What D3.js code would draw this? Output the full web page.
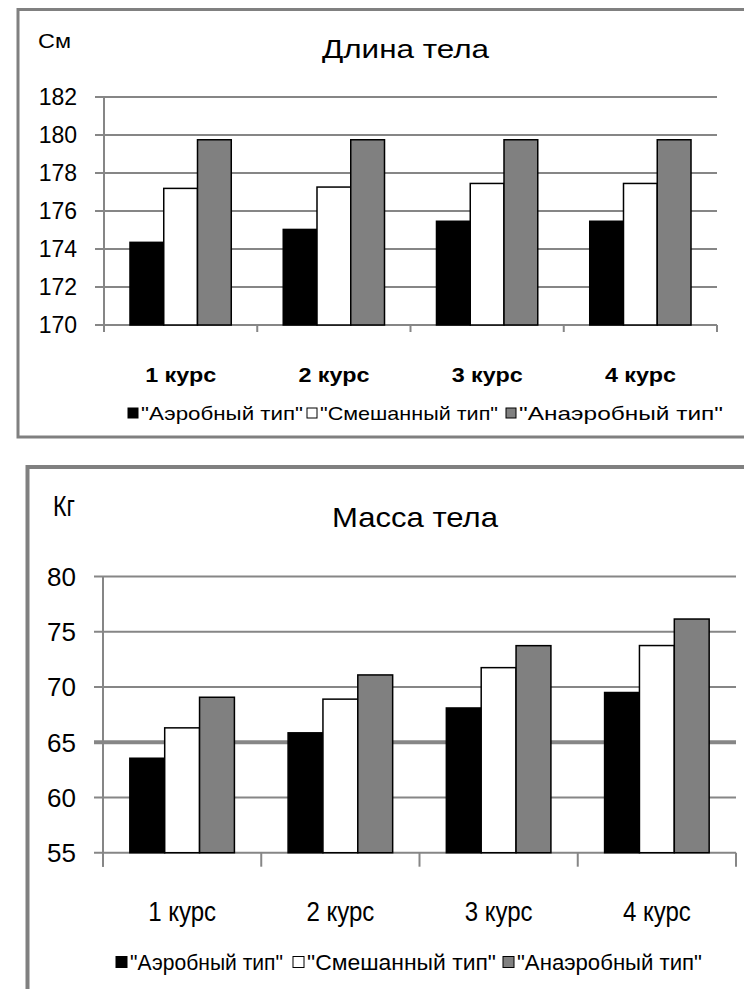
<!DOCTYPE html>
<html>
<head>
<meta charset="utf-8">
<style>
  body { margin: 0; background: #fff; }
  text { font-family: "Liberation Sans Narrow", "Liberation Sans", sans-serif; fill: #000; }
</style>
</head>
<body>
<svg id="container" width="744" height="989"></svg>
<script src="https://cdn.jsdelivr.net/npm/d3@7"></script>
<script>
// data
const courses = ["1 курс", "2 курс", "3 курс", "4 курс"];
const seriesNames = ['"Аэробный тип"', '"Смешанный тип"', '"Анаэробный тип"'];
const seriesColors = ["#000000", "#ffffff", "#808080"];

const lengthAerobic = [174.35, 175.03, 175.46, 175.46];
const lengthMixed = [177.19, 177.26, 177.45, 177.45];
const lengthAnaerobic = [179.75, 179.75, 179.75, 179.75];
const lengthTicks = [170, 172, 174, 176, 178, 180, 182];

const massAerobic = [63.55, 65.85, 68.1, 69.5];
const massMixed = [66.3, 68.9, 71.75, 73.75];
const massAnaerobic = [69.07, 71.09, 73.74, 76.15];
const massTicks = [55, 60, 65, 70, 75, 80];

let svg = d3.select("#container")

function drawChart(c) {
    let g = svg.append("g")

    // outer frame
    g.append("rect")
        .attr("x", c.frame[0]).attr("y", c.frame[1])
        .attr("width", c.frame[2]).attr("height", c.frame[3])
        .attr("fill", "none").attr("stroke", "#808080").attr("stroke-width", c.frameW)

    let y = d3.scaleLinear().domain(d3.extent(c.ticks)).range([c.bottom, c.top])
    let x0 = d3.scaleBand().domain(courses).range([c.left, c.right]).padding(0)
    let x1 = d3.scaleBand().domain(d3.range(3)).range([0, x0.bandwidth()])
        .paddingInner(0).paddingOuter(0.77)

    // gridlines + tick labels
    g.selectAll(".grid").data(c.ticks.slice(1)).enter().append("line")
        .attr("x1", c.left - 9).attr("x2", c.right)
        .attr("y1", d => y(d)).attr("y2", d => y(d))
        .attr("stroke", "#868686")
        .attr("stroke-width", d => d === c.heavy ? 4 : 2)

    g.selectAll(".ylab").data(c.ticks).enter().append("text")
        .attr("x", c.labelX).attr("y", d => y(d))
        .attr("dy", "0.36em")
        .attr("text-anchor", "end")
        .style("font-family", "'Liberation Sans', sans-serif")
        .style("font-size", c.tickSize + "px")
        .text(d => d)

    // axes
    g.append("line")
        .attr("x1", c.left).attr("x2", c.left)
        .attr("y1", y(c.ticks[c.ticks.length - 1])).attr("y2", c.bottom + c.tickLen)
        .attr("stroke", "#868686").attr("stroke-width", 2)
    g.append("line")
        .attr("x1", c.left - 9).attr("x2", c.right)
        .attr("y1", c.bottom).attr("y2", c.bottom)
        .attr("stroke", "#868686").attr("stroke-width", 2)
    let edges = courses.map(d => x0(d)).concat([c.right])
    g.selectAll(".xtick").data(edges).enter().append("line")
        .attr("x1", d => d).attr("x2", d => d)
        .attr("y1", c.bottom).attr("y2", c.bottom + c.tickLen)
        .attr("stroke", "#868686").attr("stroke-width", 2)

    // bars
    let groups = g.selectAll(".grp").data(courses).enter().append("g")
        .attr("transform", d => `translate(${x0(d)},0)`)
    groups.selectAll("rect")
        .data((d, i) => c.series.map((s, k) => ({ k: k, v: s[i] })))
        .enter().append("rect")
        .attr("x", d => x1(d.k))
        .attr("y", d => y(d.v))
        .attr("width", x1.bandwidth())
        .attr("height", d => c.bottom - y(d.v))
        .attr("fill", d => seriesColors[d.k])
        .attr("stroke", "#000").attr("stroke-width", 1.5)

    // category labels
    g.selectAll(".xlab").data(courses).enter().append("text")
        .attr("x", d => x0(d) + x0.bandwidth() / 2)
        .attr("y", c.catY)
        .attr("text-anchor", "middle")
        .attr("textLength", c.catW).attr("lengthAdjust", "spacingAndGlyphs")
        .style("font-size", c.catSize + "px")
        .style("font-weight", c.catBold ? "bold" : "normal")
        .text(d => d)

    // title and unit
    g.append("text")
        .attr("x", c.titleX).attr("y", c.titleY)
        .attr("textLength", c.titleW).attr("lengthAdjust", "spacingAndGlyphs")
        .style("font-size", c.titleSize + "px")
        .text(c.title)
    g.append("text")
        .attr("x", c.unitX).attr("y", c.unitY)
        .attr("textLength", c.unitW).attr("lengthAdjust", "spacingAndGlyphs")
        .style("font-size", c.unitSize + "px")
        .text(c.unit)

    // legend
    seriesNames.forEach((name, k) => {
        let lx = c.legX[k]
        g.append("rect")
            .attr("x", lx).attr("y", c.legY - c.sq / 2)
            .attr("width", c.sq).attr("height", c.sq)
            .attr("fill", seriesColors[k])
            .attr("stroke", "#000").attr("stroke-width", 1)
        g.append("text")
            .attr("x", lx + c.sq + 3).attr("y", c.legY)
            .attr("dy", "0.36em")
            .attr("textLength", c.legW[k]).attr("lengthAdjust", "spacingAndGlyphs")
            .style("font-size", c.legSize + "px")
            .text(name)
    })
}

drawChart({
    title: "Длина тела", unit: "См",
    series: [lengthAerobic, lengthMixed, lengthAnaerobic],
    ticks: lengthTicks, heavy: null,
    frame: [18, 9.5, 760, 427.5], frameW: 3,
    left: 104, right: 717, top: 97, bottom: 325, tickLen: 7,
    labelX: 77, tickSize: 23,
    titleX: 322, titleY: 58, titleW: 167, titleSize: 25,
    unitX: 38, unitY: 48, unitW: 33, unitSize: 21,
    catY: 382, catW: 71, catSize: 21, catBold: true,
    legY: 413, legX: [128, 307, 506], legW: [162, 178, 204], legSize: 19, sq: 10
})

drawChart({
    title: "Масса тела", unit: "Кг",
    series: [massAerobic, massMixed, massAnaerobic],
    ticks: massTicks, heavy: 65,
    frame: [27.5, 467, 760, 600], frameW: 4,
    left: 103, right: 736, top: 576.5, bottom: 852.7, tickLen: 14,
    labelX: 76, tickSize: 26,
    titleX: 332, titleY: 527, titleW: 166, titleSize: 28,
    unitX: 53, unitY: 516, unitW: 22, unitSize: 29,
    catY: 921, catW: 68, catSize: 27, catBold: false,
    legY: 962, legX: [116, 293, 503], legW: [153, 189, 185], legSize: 22, sq: 11
})
</script>
</body>
</html>
